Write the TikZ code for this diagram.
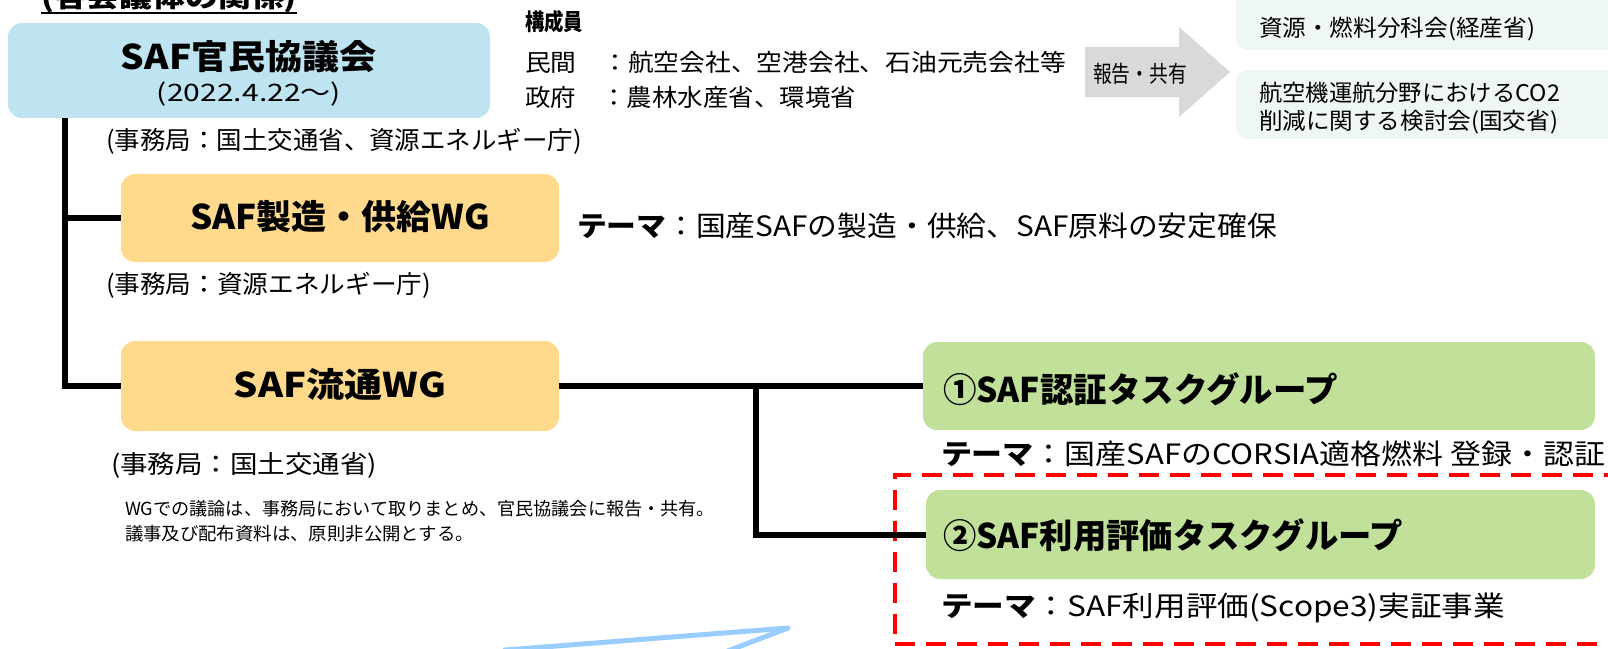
\documentclass[tikz,border=0pt]{standalone}
\usepackage{fontspec}
\usepackage{graphicx}
\setmainfont{Noto Sans CJK JP}
\definecolor{kyogi}{HTML}{BEE3F1}
\definecolor{wgfill}{HTML}{FFD98C}
\definecolor{tgfill}{HTML}{C1E19A}
\definecolor{pale}{HTML}{EEF7F6}
\definecolor{arrowgray}{HTML}{D9D9D9}
\definecolor{skyline}{HTML}{99CCFF}
\newcommand\fw[2]{\resizebox{#1pt}{\height}{#2}}
\tikzset{
  conn/.style={line width=6pt},
  panel/.style={rounded corners=14pt, inner sep=0pt, draw=none},
  lbl/.style={inner sep=0pt, outer sep=0pt},
  big/.style={lbl, font=\fontsize{34}{40}\selectfont\bfseries},
  theme/.style={lbl, anchor=west, font=\fontsize{28}{32}\selectfont},
  office/.style={lbl, anchor=west, font=\fontsize{25}{30}\selectfont},
  small/.style={lbl, anchor=west, font=\fontsize{18}{22}\selectfont},
  side/.style={lbl, anchor=west, font=\fontsize{23}{26}\selectfont},
  member/.style={lbl, anchor=west, font=\fontsize{24}{28}\selectfont},
}
\begin{document}
\begin{tikzpicture}[x=1pt,y=-1pt]
\useasboundingbox (0,0) rectangle (1608,648);
% title (cut off at top)
\node[lbl, anchor=base west, font=\fontsize{26}{30}\selectfont\bfseries] (title) at (41,7) {\fw{256}{(各会議体の関係)}};
\draw[line width=2pt] (title.base west) ++(0,6) -- ++(256,0);

% council box
\node[panel, fill=kyogi, minimum width=482pt, minimum height=95pt] (kyogi) at (249,70.5) {};
\node[big] (kyogiT) at (249,57) {\fw{256}{SAF官民協議会}};
\node[lbl, font=\fontsize{24}{28}\selectfont] (kyogiD) at (249,94) {\fw{184}{(2022.4.22〜)}};
\node[office] (sec0) at (106,141) {\fw{476}{(事務局：国土交通省、資源エネルギー庁)}};

% WG1
\node[panel, fill=wgfill, minimum width=438pt, minimum height=88pt] (wg1) at (340,218) {};
\node[big] (wg1T) at (340,217) {\fw{300}{SAF製造・供給WG}};
\node[theme] (th1) at (577,226) {\fw{700}{\textbf{テーマ}：国産SAFの製造・供給、SAF原料の安定確保}};
\node[office] (sec1) at (106,285) {\fw{325}{(事務局：資源エネルギー庁)}};

% WG2
\node[panel, fill=wgfill, minimum width=438pt, minimum height=90pt] (wg2) at (340,386) {};
\node[big] (wg2T) at (340,385) {\fw{212}{SAF流通WG}};
\node[office] (sec2) at (111,465) {\fw{266}{(事務局：国土交通省)}};
\node[small] (note1) at (125,509) {\fw{590}{WGでの議論は、事務局において取りまとめ、官民協議会に報告・共有。}};
\node[small] (note2) at (125,534) {\fw{349}{議事及び配布資料は、原則非公開とする。}};

% task group 1
\node[panel, fill=tgfill, minimum width=672pt, minimum height=88pt] (tg1) at (1259,386) {};
\node[big, anchor=west] (tg1T) at (943,389) {\fw{395}{①SAF認証タスクグループ}};
\node[theme] (th2) at (941,454) {\fw{664}{\textbf{テーマ}：国産SAFのCORSIA適格燃料 登録・認証}};

% red dashed frame
\node[lbl, draw=red, line width=4pt, dash pattern=on 20pt off 11pt, minimum width=745pt, minimum height=169pt] (frame) at (1267.5,559.5) {};

% task group 2
\node[panel, fill=tgfill, minimum width=669pt, minimum height=89pt] (tg2) at (1260.5,534.5) {};
\node[big, anchor=west] (tg2T) at (943,535) {\fw{460}{②SAF利用評価タスクグループ}};
\node[theme] (th3) at (941,608) {\fw{564}{\textbf{テーマ}：SAF利用評価(Scope3)実証事業}};

% connectors
\coordinate (trunk) at (65,118);
\draw[conn] (trunk) |- (wg2.west);
\draw[conn] (trunk |- wg1.west) -- (wg1.west);
\draw[conn] (wg2.east) -- (tg1.west);
\coordinate (fork) at (756,386);
\draw[conn] (fork) |- (tg2.west);

% members
\node[lbl, anchor=west, font=\fontsize{23}{26}\selectfont\bfseries] (memT) at (525,22) {\fw{58}{構成員}};
\node[member] (mem1) at (525,62) {\fw{541}{民間　：航空会社、空港会社、石油元売会社等}};
\node[member] (mem2) at (525,97) {\fw{331}{政府　：農林水産省、環境省}};

% grey arrow
\fill[arrowgray] (1085,47) -- (1179,47) -- (1179,27) -- (1230,72) -- (1179,117) -- (1179,97) -- (1085,97) -- cycle;
\node[lbl, font=\fontsize{23}{26}\selectfont] (share) at (1140,74) {\fw{94}{報告・共有}};

% side boxes
\node[panel, fill=pale, rounded corners=12pt, minimum width=400pt, minimum height=60pt, anchor=north west] (r1) at (1236,-10) {};
\node[side] (r1T) at (1259,29) {\fw{276}{資源・燃料分科会(経産省)}};
\node[panel, fill=pale, rounded corners=12pt, minimum width=400pt, minimum height=69pt, anchor=north west] (r2) at (1236,70) {};
\node[side] (r2a) at (1259,93) {\fw{301}{航空機運航分野におけるCO2}};
\node[side] (r2b) at (1259,122) {\fw{299}{削減に関する検討会(国交省)}};

% light blue stroke at bottom
\draw[skyline, line width=5pt, line cap=round, line join=round] (505,650) -- (788,628) -- (725,652);
\end{tikzpicture}
\end{document}
